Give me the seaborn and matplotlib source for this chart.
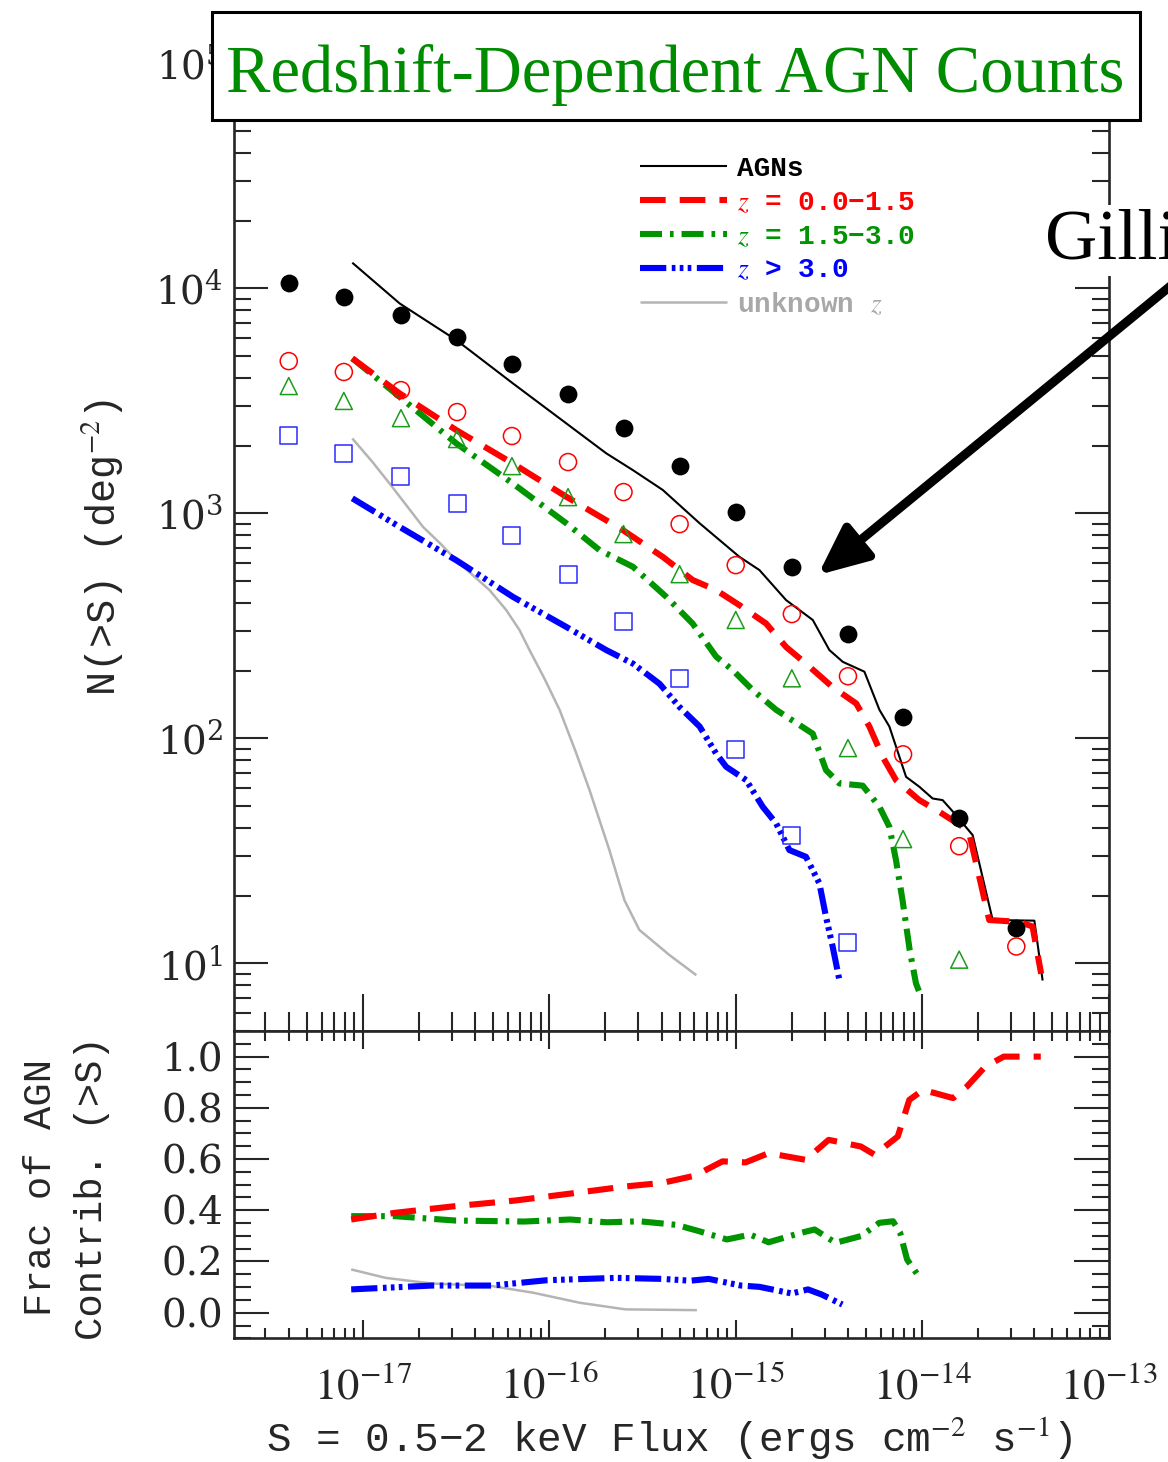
import numpy as np
import pandas as pd
import matplotlib
matplotlib.use("Agg")
import matplotlib.pyplot as plt
import seaborn as sns
from matplotlib.patches import Rectangle
from matplotlib.ticker import FixedLocator, LogLocator, MultipleLocator, NullFormatter, FuncFormatter
from matplotlib.font_manager import FontProperties

# ---------------- data ----------------
S_pts = [4.0e-18, 7.9e-18, 1.6e-17, 3.2e-17, 6.3e-17, 1.26e-16, 2.5e-16,
         5.0e-16, 1.0e-15, 2.0e-15, 4.0e-15, 7.9e-15, 1.58e-14, 3.2e-14]
N_all_pts = [10560, 9150, 7610, 6080, 4610, 3395, 2400, 1626, 1014, 577, 291, 124, 44.3, 14.4]
N_z1_pts = [4750, 4250, 3530, 2820, 2207, 1691, 1244, 896, 589, 357, 189, 85, 33.2, 11.9]
N_z2_pts = [3680, 3160, 2650, 2140, 1622, 1181, 809, 537, 336, 185, 90.6, 35.7, 10.4]
N_z3_pts = [2208, 1855, 1465, 1111, 801, 537, 332, 185, 89.6, 37.2, 12.4]

S_agn = [8.77e-18, 1.574e-17, 3.17e-17, 6.37e-17, 1.233e-16, 2.02e-16, 2.81e-16, 4.06e-16,
         6.40e-16, 1.047e-15, 1.34e-15, 1.862e-15, 2.59e-15, 3.18e-15, 3.75e-15, 4.90e-15,
         5.90e-15, 6.67e-15, 8.20e-15, 9.66e-15, 1.138e-14, 1.288e-14, 1.489e-14, 1.866e-14,
         2.39e-14, 4.00e-14, 4.43e-14]
N_agn = [13000, 8570, 5890, 3784, 2512, 1849, 1556, 1271, 904, 641, 560, 412, 336, 247, 219,
         198, 134, 113, 67.5, 61, 54.1, 53.2, 46.5, 37.2, 15.6, 15.5, 8.4]

S_z1 = [8.77e-18, 1.574e-17, 3.17e-17, 6.37e-17, 1.233e-16, 2.48e-16, 4.06e-16, 5.87e-16,
        7.85e-16, 1.047e-15, 1.455e-15, 1.862e-15, 2.38e-15, 3.31e-15, 4.43e-15, 5.21e-15,
        6.14e-15, 7.24e-15, 9.66e-15, 1.236e-14, 1.648e-14, 1.79e-14, 2.29e-14, 3.32e-14,
        3.91e-14, 4.35e-14]
N_z1 = [4887, 3412, 2344, 1667, 1186, 843, 641, 506, 456, 391, 324, 255, 215, 169, 143, 113,
        82.8, 65.3, 53.2, 47.2, 40.5, 37.8, 15.6, 15.3, 14.6, 9.0]

S_z2 = [8.77e-18, 1.574e-17, 3.17e-17, 6.37e-17, 1.233e-16, 1.858e-16, 2.81e-16, 4.24e-16,
        5.87e-16, 7.85e-16, 9.64e-16, 1.233e-15, 1.648e-15, 2.59e-15, 3.05e-15, 3.60e-15,
        4.80e-15, 5.90e-15, 6.67e-15, 7.24e-15, 7.85e-15, 8.57e-15, 9.27e-15, 9.66e-15]
N_z2 = [4887, 3296, 2046, 1358, 904, 687, 579, 426, 324, 231, 201, 164, 134, 105, 72.3, 63.1,
        61.7, 49.7, 40.5, 28.8, 19.1, 11.5, 8.15, 7.46]

S_z3 = [8.77e-18, 1.574e-17, 3.17e-17, 6.37e-17, 1.233e-16, 2.02e-16, 2.81e-16, 3.90e-16,
        4.99e-16, 6.40e-16, 7.85e-16, 8.89e-16, 1.138e-15, 1.396e-15, 1.648e-15, 1.941e-15,
        2.38e-15, 2.81e-15, 3.05e-15, 3.31e-15, 3.60e-15]
N_z3 = [1167, 871, 619, 426, 313, 247, 215, 175, 138, 113, 85.7, 74.8, 65.3, 49.7, 41.9, 31.9,
        29.8, 22.7, 16.1, 11.9, 8.43]

S_unk = [8.77e-18, 1.12e-17, 1.39e-17, 1.72e-17, 2.10e-17, 2.60e-17, 3.17e-17, 3.90e-17,
         4.78e-17, 5.87e-17, 6.92e-17, 7.83e-17, 9.40e-17, 1.135e-16, 1.38e-16, 1.644e-16,
         2.10e-16, 2.53e-16, 3.04e-16, 4.41e-16, 6.15e-16]
N_unk = [2153, 1700, 1358, 1080, 871, 735, 619, 530, 456, 372, 303, 247, 185, 134, 88, 58.9,
         31.9, 19.1, 14.1, 10.9, 8.87]

# fractions (bottom panel)
S_f1 = [8.65e-18, 1.486e-17, 3.12e-17, 6.55e-17, 1.294e-16, 2.56e-16, 4.05e-16, 6.03e-16,
        8.49e-16, 1.13e-15, 1.50e-15, 2.37e-15, 3.15e-15, 4.69e-15, 5.56e-15, 7.40e-15,
        8.53e-15, 1.012e-14, 1.466e-14, 1.738e-14, 2.18e-14, 2.74e-14, 4.33e-14]
F_f1 = [0.364, 0.390, 0.416, 0.438, 0.465, 0.493, 0.507, 0.535, 0.591, 0.587, 0.623, 0.597,
        0.675, 0.649, 0.617, 0.688, 0.831, 0.870, 0.838, 0.883, 0.961, 1.0, 1.0]
S_f2 = [8.65e-18, 1.486e-17, 3.12e-17, 7.33e-17, 1.294e-16, 2.04e-16, 3.05e-16, 4.81e-16,
        6.38e-16, 8.97e-16, 1.194e-15, 1.50e-15, 2.24e-15, 2.65e-15, 3.43e-15, 4.69e-15,
        5.89e-15, 6.98e-15, 7.62e-15, 8.30e-15, 9.84e-15]
F_f2 = [0.377, 0.377, 0.360, 0.356, 0.364, 0.353, 0.357, 0.343, 0.318, 0.286, 0.305, 0.275,
        0.312, 0.325, 0.273, 0.299, 0.351, 0.357, 0.312, 0.208, 0.130]
S_f3 = [8.65e-18, 2.34e-17, 4.92e-17, 9.75e-17, 2.29e-16, 4.05e-16, 5.70e-16, 7.16e-16,
        1.067e-15, 1.34e-15, 2.00e-15, 2.44e-15, 2.89e-15, 3.73e-15]
F_f3 = [0.091, 0.106, 0.106, 0.127, 0.136, 0.132, 0.125, 0.132, 0.106, 0.101, 0.075, 0.091,
        0.071, 0.032]
S_fu = [8.65e-18, 1.324e-17, 2.34e-17, 4.92e-17, 8.20e-17, 1.452e-16, 2.56e-16, 6.19e-16]
F_fu = [0.169, 0.136, 0.114, 0.104, 0.078, 0.039, 0.013, 0.010]

legend_labels = ["AGNs", "$z$ = 0.0\u22121.5", "$z$ = 1.5\u22123.0", "$z$ > 3.0", "unknown $z$"]

# ---------------- style ----------------
sns.set_style("ticks")
plt.rcParams["font.family"] = ["DejaVu Serif"]
plt.rcParams["mathtext.fontset"] = "stix"

RED = "#ff0000"
GREEN = "#009400"
BLUE = "#0000ff"
GRAY = "#b4b4b4"

LW = 4.4
DASH_RED = (0, (4.2, 2.3))
DASH_GREEN = (0, (3.6, 1.3, 0.6, 1.3))
DASH_BLUE = (0, (4.3, 0.9, 0.6, 0.7, 0.6, 0.7, 0.6, 0.9))

fig = plt.figure(figsize=(11.68, 14.62), dpi=100)
ax1 = fig.add_axes([0.2006, 0.2948, 0.7485, 0.6619])
ax2 = fig.add_axes([0.2006, 0.0846, 0.7485, 0.2102])

for ax in (ax1, ax2):
    ax.set_xscale("log")
ax1.set_yscale("log")

def line(ax, x, y, color, lw, ls):
    sns.lineplot(x=x, y=y, ax=ax, color=color, linewidth=lw, linestyle=ls,
                 estimator=None, sort=False, legend=False)
    ln = ax.lines[-1]
    ln.set_solid_capstyle("butt")
    ln.set_dash_capstyle("butt")
    return ln

# top panel lines
l_all = line(ax1, S_agn, N_agn, "black", 1.5, "-")
l_unk = line(ax1, S_unk, N_unk, GRAY, 1.8, "-")
l_z3 = line(ax1, S_z3, N_z3, BLUE, LW, DASH_BLUE)
l_z2 = line(ax1, S_z2, N_z2, GREEN, LW, DASH_GREEN)
l_z1 = line(ax1, S_z1, N_z1, RED, LW, DASH_RED)

# top panel points
sns.scatterplot(x=S_pts, y=N_all_pts, ax=ax1, marker="o", s=165, color="black",
                edgecolor="black", linewidth=0, legend=False, zorder=5)
sns.scatterplot(x=S_pts, y=N_z1_pts, ax=ax1, marker="o", s=150, facecolor="none",
                edgecolor=RED, linewidth=1.1, legend=False, zorder=5)
sns.scatterplot(x=S_pts[:len(N_z2_pts)], y=N_z2_pts, ax=ax1, marker="^", s=150,
                facecolor="none", edgecolor="#1c9c1c", linewidth=1.1, legend=False, zorder=5)
sns.scatterplot(x=S_pts[:len(N_z3_pts)], y=N_z3_pts, ax=ax1, marker="s", s=150,
                facecolor="none", edgecolor="#2a2aff", linewidth=1.1, legend=False, zorder=5)

# bottom panel lines
line(ax2, S_fu, F_fu, GRAY, 1.8, "-")
line(ax2, S_f3, F_f3, BLUE, LW, DASH_BLUE)
line(ax2, S_f2, F_f2, GREEN, LW, DASH_GREEN)
line(ax2, S_f1, F_f1, RED, LW, DASH_RED)

# ---------------- axes ----------------
xlo, xhi = 10 ** -17.69, 1e-13
for ax in (ax1, ax2):
    ax.set_xlim(xlo, xhi)
    ax.xaxis.set_major_locator(FixedLocator([1e-17, 1e-16, 1e-15, 1e-14, 1e-13]))
    ax.xaxis.set_minor_locator(LogLocator(base=10, subs=np.arange(2, 10), numticks=30))
    for sp in ax.spines.values():
        sp.set_linewidth(1.9)
        sp.set_visible(True)
    ax.set_xlabel("")
    ax.set_ylabel("")

ax1.set_ylim(10 ** 0.70, 1e5)
ax1.yaxis.set_major_locator(FixedLocator([1e1, 1e2, 1e3, 1e4, 1e5]))
ax1.yaxis.set_minor_locator(LogLocator(base=10, subs=np.arange(2, 10), numticks=30))
ax1.yaxis.set_major_formatter(FuncFormatter(lambda v, p: r"$10^{%d}$" % round(np.log10(v))))
ax1.yaxis.set_minor_formatter(NullFormatter())
ax1.xaxis.set_major_formatter(NullFormatter())
ax1.xaxis.set_minor_formatter(NullFormatter())
ax1.tick_params(axis="both", which="both", direction="in", top=True, right=True, width=1.5)
ax1.tick_params(axis="y", which="major", length=24.5, labelsize=28, pad=8)
ax1.tick_params(axis="y", which="minor", length=12.5)
ax1.tick_params(axis="x", which="major", length=27)
ax1.tick_params(axis="x", which="minor", length=14)

ax2.set_ylim(-0.1, 1.1)
ax2.yaxis.set_major_locator(FixedLocator([0.0, 0.2, 0.4, 0.6, 0.8, 1.0]))
ax2.yaxis.set_minor_locator(MultipleLocator(0.05))
ax2.yaxis.set_major_formatter(FuncFormatter(lambda v, p: "%.1f" % v))
ax2.xaxis.set_major_formatter(FuncFormatter(lambda v, p: r"$10^{%d}$" % round(np.log10(v))))
ax2.xaxis.set_minor_formatter(NullFormatter())
ax2.tick_params(axis="both", which="both", direction="in", top=True, right=True, width=1.5)
ax2.tick_params(axis="y", which="major", length=25, labelsize=28, pad=8)
ax2.tick_params(axis="y", which="minor", length=12.5)
ax2.tick_params(axis="x", which="major", length=13, labelsize=32, pad=19)
ax2.tick_params(axis="x", which="minor", length=7)

for t in ax1.yaxis.get_major_ticks():
    t.label1.set_math_fontfamily("dejavuserif")
    t.label1.set_fontfamily("DejaVu Serif")
for t in ax2.yaxis.get_major_ticks():
    t.label1.set_fontfamily("DejaVu Serif")
for t in ax2.xaxis.get_major_ticks():
    t.label1.set_math_fontfamily("stix")

mono = "Liberation Mono"
ax1.set_ylabel("N(>S) (deg$^{-2}$)", fontfamily=mono, fontsize=29)
ax1.yaxis.set_label_coords(-0.125, 0.5)
ax2.set_ylabel("Frac of AGN\nContrib. (>S)", fontfamily=mono, fontsize=28, linespacing=1.55)
ax2.yaxis.set_label_coords(-0.142, 0.49)
ax2.set_xlabel("S = 0.5\u22122 keV Flux (ergs cm$^{-2}$ s$^{-1}$)", fontfamily=mono, fontsize=29.5)
ax2.xaxis.set_label_coords(0.497, -0.25)

# ---------------- legend ----------------
leg = ax1.legend(handles=[l_all, l_z1, l_z2, l_z3, l_unk], labels=legend_labels,
                 loc="upper left", bbox_to_anchor=(0.464, 0.904), frameon=False,
                 prop=FontProperties(family=mono, size=20, weight="semibold"),
                 handlelength=3.15, handletextpad=0.36, labelspacing=0.28,
                 borderaxespad=0, borderpad=0)
for txt, c in zip(leg.get_texts(), ["black", RED, GREEN, BLUE, "#a8a8a8"]):
    txt.set_color(c)

# ---------------- title box, annotation ----------------
fig.add_artist(Rectangle((0.1815, 0.9179), 0.7945, 0.0739, transform=fig.transFigure,
                         facecolor="white", edgecolor="black", linewidth=2.2, zorder=10))
fig.text(0.578, 0.937, "Redshift-Dependent AGN Counts", color="#008c00",
         fontfamily="Liberation Serif", fontsize=48, ha="center", va="baseline", zorder=11)

fig.text(0.8947, 0.8235, "Gilli et al.", color="black", fontfamily="Liberation Serif",
         fontsize=52, ha="left", va="baseline", zorder=11,
         bbox=dict(facecolor="white", edgecolor="none", pad=2))

ax1.annotate("", xy=(818 / 1168, 1 - 575 / 1462), xytext=(1190 / 1168, 1 - 270 / 1462),
             xycoords="figure fraction", textcoords="figure fraction",
             arrowprops=dict(arrowstyle="-|>,head_length=1.0,head_width=0.45",
                             lw=6.5, color="black", mutation_scale=30, shrinkA=0, shrinkB=0),
             annotation_clip=False, zorder=12)

fig.savefig("out.png", dpi=100)
